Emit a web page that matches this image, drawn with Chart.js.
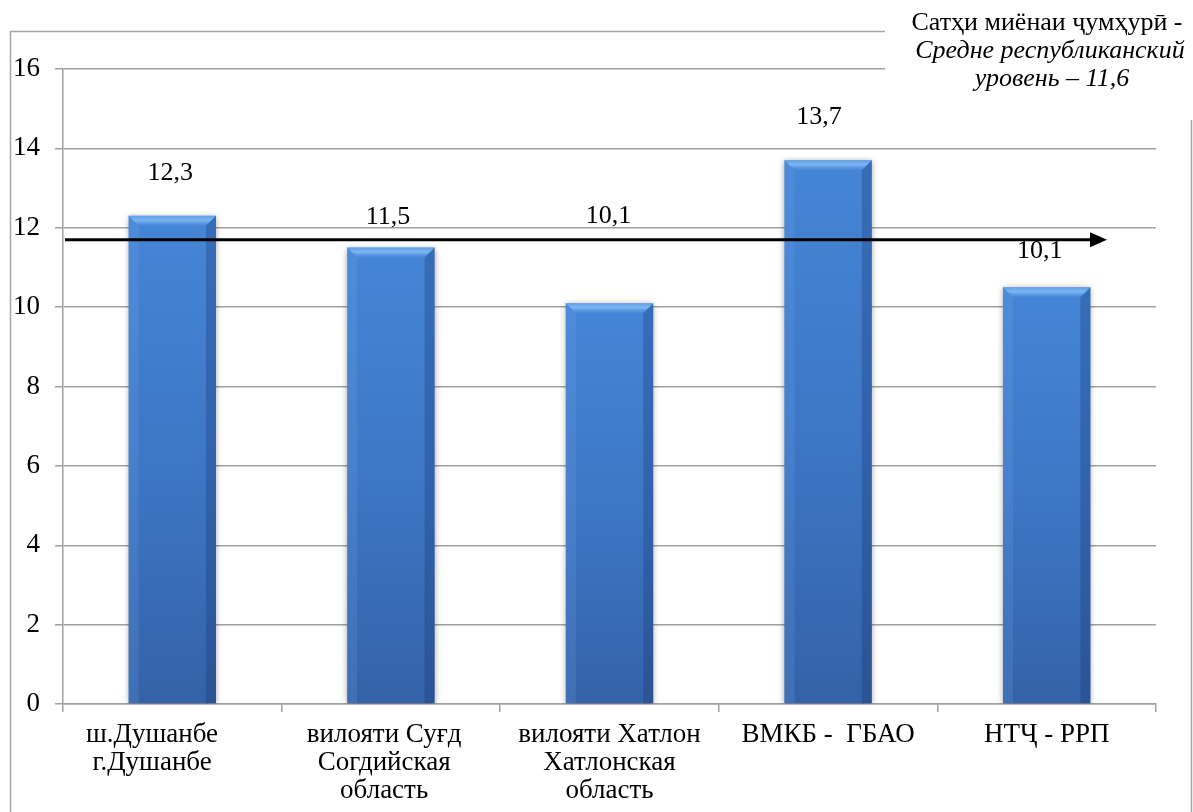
<!DOCTYPE html>
<html>
<head>
<meta charset="utf-8">
<script src="https://cdn.jsdelivr.net/npm/chart.js@4"></script>
<style>
html,body{margin:0;padding:0;background:#fff;}
#wrap{width:1193px;height:812px;position:relative;}
</style>
</head>
<body>
<div id="wrap"><canvas id="c" width="1193" height="812"></canvas></div>
<script>
const categories = [
  ["ш.Душанбе      ", "г.Душанбе      "],
  ["вилояти Суғд  ", "Согдийская  ", "область  "],
  ["вилояти Хатлон", "Хатлонская", "область"],
  "ВМКБ -  ГБАО",
  "НТҶ - РРП"
];
const values = [12.3, 11.5, 10.1, 13.7, 10.5];
const valueLabels = ["12,3", "11,5", "10,1", "13,7", "10,1"];
const yMin = 0, yMax = 16, yStep = 2;
const averageArrowLevel = 11.7;
const noteLines = ["Сатҳи миёнаи ҷумҳурӣ -", "Средне республиканский", "уровень – 11,6"];

const FONT = "'Liberation Serif', 'Times New Roman', serif";
Chart.defaults.font.family = FONT;
Chart.defaults.font.size = 27;
Chart.defaults.color = '#000';

function barGradient(ctx) {
  const chart = ctx.chart;
  const ys = chart.scales.y;
  if (!ys || !chart.chartArea || ctx.parsed === undefined) return '#3a72c2';
  const top = ys.getPixelForValue(ctx.parsed.y);
  const bottom = ys.getPixelForValue(0);
  const g = chart.ctx.createLinearGradient(0, top, 0, bottom);
  g.addColorStop(0, '#4585d7');
  g.addColorStop(0.5, '#3d77c6');
  g.addColorStop(1, '#3462a8');
  return g;
}

const decorPlugin = {
  id: 'decor',
  beforeDraw(chart) {
    const c = chart.ctx;
    c.save();
    c.strokeStyle = '#a6a6a6';
    c.lineWidth = 1.5;
    c.strokeRect(10.5, 31.5, 1181, 800);
    c.restore();
  },
  beforeDatasetsDraw(chart) {
    const c = chart.ctx;
    c.save();
    c.shadowColor = 'rgba(0,0,0,0.35)';
    c.shadowBlur = 6;
    c.shadowOffsetX = 0;
    c.shadowOffsetY = 1;
  },
  afterDatasetsDraw(chart) {
    const c = chart.ctx;
    c.restore();
    const meta = chart.getDatasetMeta(0);
    const b = 10;
    meta.data.forEach(el => {
      const p = el.getProps(['x', 'y', 'base', 'width'], true);
      const l = p.x - p.width / 2, r = p.x + p.width / 2, t = p.y, bo = p.base;
      c.save();
      // top bevel
      let g = c.createLinearGradient(0, t, 0, t + b);
      g.addColorStop(0, 'rgba(120,180,245,0.55)');
      g.addColorStop(0.45, 'rgba(150,205,255,0.7)');
      g.addColorStop(1, 'rgba(90,150,225,0.2)');
      c.fillStyle = g;
      c.beginPath();
      c.moveTo(l, t); c.lineTo(r, t); c.lineTo(r - b, t + b); c.lineTo(l + b, t + b); c.closePath();
      c.fill();
      // left bevel
      c.fillStyle = 'rgba(120,170,235,0.18)';
      c.beginPath();
      c.moveTo(l, t); c.lineTo(l + b, t + b); c.lineTo(l + b, bo); c.lineTo(l, bo); c.closePath();
      c.fill();
      // right bevel
      c.fillStyle = 'rgba(20,45,100,0.28)';
      c.beginPath();
      c.moveTo(r, t); c.lineTo(r - b, t + b); c.lineTo(r - b, bo); c.lineTo(r, bo); c.closePath();
      c.fill();
      c.restore();
    });
  },
  afterDraw(chart) {
    const c = chart.ctx;
    const area = chart.chartArea;
    const ys = chart.scales.y;
    c.save();
    // note box
    c.fillStyle = '#fff';
    c.fillRect(885, 0, 1193 - 885, 120);
    c.fillStyle = '#000';
    c.textAlign = 'center';
    c.textBaseline = 'middle';
    c.font = '26px ' + FONT;
    c.fillText(noteLines[0], 1047, 23);
    c.font = 'italic 26px ' + FONT;
    c.fillText(noteLines[1], 1050, 51);
    c.fillText(noteLines[2], 1052, 79);

    // arrow
    const ay = ys.getPixelForValue(averageArrowLevel);
    const x0 = area.left + 2;
    const tip = area.right - 49;
    c.strokeStyle = '#000';
    c.lineWidth = 3;
    c.beginPath();
    c.moveTo(x0, ay); c.lineTo(tip - 14, ay); c.stroke();
    c.beginPath();
    c.moveTo(tip, ay); c.lineTo(tip - 17, ay - 7.5); c.lineTo(tip - 17, ay + 7.5); c.closePath();
    c.fill();

    // value labels
    const opts = chart.options.plugins.decor;
    const meta = chart.getDatasetMeta(0);
    c.font = '26px ' + FONT;
    meta.data.forEach((el, i) => {
      const p = el.getProps(['x', 'y'], true);
      c.fillText(valueLabels[i], p.x + opts.dx[i], p.y - opts.dy[i]);
    });
    c.restore();
  }
};

new Chart(document.getElementById('c'), {
  type: 'bar',
  data: {
    labels: categories,
    datasets: [{
      data: values,
      backgroundColor: barGradient,
      borderWidth: 0,
      barPercentage: 0.40,
      categoryPercentage: 1.0
    }]
  },
  options: {
    responsive: false,
    animation: false,
    devicePixelRatio: 1,
    layout: { padding: { top: 69, right: 37, left: 0, bottom: 0 } },
    plugins: {
      legend: { display: false },
      tooltip: { enabled: false },
      decor: { dx: [-2, -3, -1, -9, -7], dy: [43, 30, 87, 43, 36] }
    },
    scales: {
      x: {
        grid: { display: true, drawOnChartArea: false, drawTicks: true, tickLength: 8, color: '#a0a0a0', lineWidth: 1.5, offset: true },
        border: { color: '#a0a0a0', width: 1.5 },
        ticks: { maxRotation: 0, minRotation: 0, autoSkip: false, padding: 9, font: { size: 27, lineHeight: '28px' }, color: '#000' },
        afterFit(s) { s.height = 108; }
      },
      y: {
        min: yMin, max: yMax,
        grid: { color: '#a0a0a0', lineWidth: 1.5, tickLength: 8, drawTicks: true },
        border: { color: '#a0a0a0', width: 1.5 },
        ticks: { stepSize: yStep, padding: 15, font: { size: 27 }, color: '#000' },
        afterFit(s) { s.width = 63; }
      }
    }
  },
  plugins: [decorPlugin]
});
</script>
</body>
</html>
